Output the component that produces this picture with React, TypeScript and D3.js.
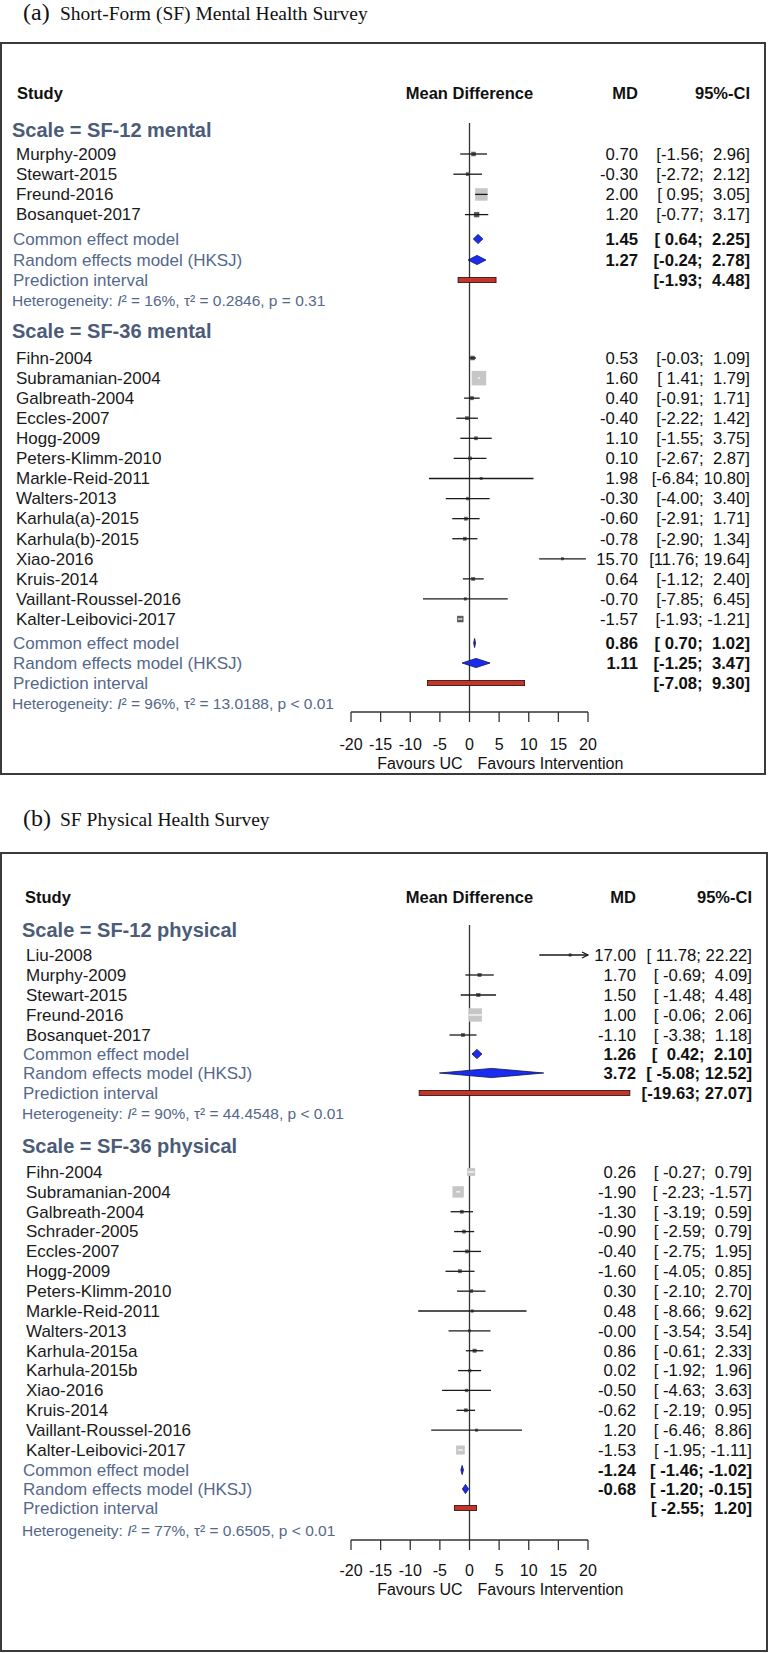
import React from "react";
import * as d3 from "d3";

const W = 769;
const H = 1653;

// ---------------- Panel (a): SF mental ----------------
const m12Studies = ["Murphy-2009", "Stewart-2015", "Freund-2016", "Bosanquet-2017"];
const m12MD = [0.7, -0.3, 2.0, 1.2];
const m12Lo = [-1.56, -2.72, 0.95, -0.77];
const m12Hi = [2.96, 2.12, 3.05, 3.17];
const m12Weight = [8, 5, 72, 12];
const m12Common = [1.45, 0.64, 2.25];
const m12Random = [1.27, -0.24, 2.78];
const m12Pred = [-1.93, 4.48];
const m12Het = ["16%", "0.2846", "p = 0.31"];

const m36Studies = [
  "Fihn-2004", "Subramanian-2004", "Galbreath-2004", "Eccles-2007", "Hogg-2009",
  "Peters-Klimm-2010", "Markle-Reid-2011", "Walters-2013", "Karhula(a)-2015",
  "Karhula(b)-2015", "Xiao-2016", "Kruis-2014", "Vaillant-Roussel-2016", "Kalter-Leibovici-2017",
];
const m36MD = [0.53, 1.6, 0.4, -0.4, 1.1, 0.1, 1.98, -0.3, -0.6, -0.78, 15.7, 0.64, -0.7, -1.57];
const m36Lo = [-0.03, 1.41, -0.91, -2.22, -1.55, -2.67, -6.84, -4.0, -2.91, -2.9, 11.76, -1.12, -7.85, -1.93];
const m36Hi = [1.09, 1.79, 1.71, 1.42, 3.75, 2.87, 10.8, 3.4, 1.71, 1.34, 19.64, 2.4, 6.45, -1.21];
const m36Weight = [8, 100, 6, 5, 5, 5, 3, 4, 5, 5, 3, 5, 3, 18];
const m36Common = [0.86, 0.7, 1.02];
const m36Random = [1.11, -1.25, 3.47];
const m36Pred = [-7.08, 9.3];
const m36Het = ["96%", "13.0188", "p < 0.01"];

// ---------------- Panel (b): SF physical ----------------
const p12Studies = ["Liu-2008", "Murphy-2009", "Stewart-2015", "Freund-2016", "Bosanquet-2017"];
const p12MD = [17.0, 1.7, 1.5, 1.0, -1.1];
const p12Lo = [11.78, -0.69, -1.48, -0.06, -3.38];
const p12Hi = [22.22, 4.09, 4.48, 2.06, 1.18];
const p12Weight = [3, 6, 6, 82, 6];
const p12Common = [1.26, 0.42, 2.1];
const p12Random = [3.72, -5.08, 12.52];
const p12Pred = [-19.63, 27.07];
const p12PredDrawn = [-8.5, 27.07]; // extent of the red bar as drawn in the figure
const p12Het = ["90%", "44.4548", "p < 0.01"];

const p36Studies = [
  "Fihn-2004", "Subramanian-2004", "Galbreath-2004", "Schrader-2005", "Eccles-2007",
  "Hogg-2009", "Peters-Klimm-2010", "Markle-Reid-2011", "Walters-2013", "Karhula-2015a",
  "Karhula-2015b", "Xiao-2016", "Kruis-2014", "Vaillant-Roussel-2016", "Kalter-Leibovici-2017",
];
const p36MD = [0.26, -1.9, -1.3, -0.9, -0.4, -1.6, 0.3, 0.48, -0.001, 0.86, 0.02, -0.5, -0.62, 1.2, -1.53];
const p36Lo = [-0.27, -2.23, -3.19, -2.59, -2.75, -4.05, -2.1, -8.66, -3.54, -0.61, -1.92, -4.63, -2.19, -6.46, -1.95];
const p36Hi = [0.79, -1.57, 0.59, 0.79, 1.95, 0.85, 2.7, 9.62, 3.54, 2.33, 1.96, 3.63, 0.95, 8.86, -1.11];
const p36Weight = [30, 60, 5, 5, 5, 5, 5, 3, 3, 6, 4, 4, 5, 3, 36];
const p36Common = [-1.24, -1.46, -1.02];
const p36Random = [-0.68, -1.2, -0.15];
const p36Pred = [-2.55, 1.2];
const p36Het = ["77%", "0.6505", "p < 0.01"];

const xTicks = [-20, -15, -10, -5, 0, 5, 10, 15, 20];
const xDomain = [-20, 20];

const SANS = "'Liberation Sans', Arial, Helvetica, sans-serif";
const SERIF = "'Liberation Serif', 'Times New Roman', serif";
const SLATE = "#4b5b78";
const SLATE_LIGHT = "#55688a";

type Group = {
  name: string;
  studies: string[];
  md: number[];
  lo: number[];
  hi: number[];
  weight: number[];
  common: number[];
  random: number[];
  pred: number[];
  predDrawn: number[];
  het: string[];
  yHeader: number;
  yFirst: number;
  step: number;
  ySum: number[]; // common, random, prediction, heterogeneity
};

type Panel = {
  letter: string;
  title: string;
  titleY: number;
  boxTop: number;
  boxBottom: number;
  boxRight: number;
  headY: number;
  headX: number;
  groupX: number;
  studyX: number;
  sumX: number;
  mdX: number;
  ciRightX: number;
  loPad: number;
  hiPad: number;
  zeroTop: number;
  axisY: number;
  tickLabelY: number;
  favY: number;
  groups: Group[];
};

const panels: Panel[] = [
  {
    letter: "(a)",
    title: "Short-Form (SF) Mental Health Survey",
    titleY: 20,
    boxTop: 43,
    boxBottom: 774,
    boxRight: 765,
    headY: 93,
    headX: 17,
    groupX: 12,
    studyX: 16,
    sumX: 13,
    mdX: 638,
    ciRightX: 750,
    loPad: 5,
    hiPad: 5,
    zeroTop: 123,
    axisY: 712,
    tickLabelY: 744,
    favY: 763,
    groups: [
      {
        name: "Scale = SF-12 mental", studies: m12Studies, md: m12MD, lo: m12Lo, hi: m12Hi,
        weight: m12Weight, common: m12Common, random: m12Random, pred: m12Pred, predDrawn: m12Pred,
        het: m12Het, yHeader: 130, yFirst: 154, step: 20.2, ySum: [239, 260, 280, 301],
      },
      {
        name: "Scale = SF-36 mental", studies: m36Studies, md: m36MD, lo: m36Lo, hi: m36Hi,
        weight: m36Weight, common: m36Common, random: m36Random, pred: m36Pred, predDrawn: m36Pred,
        het: m36Het, yHeader: 331, yFirst: 358, step: 20.08, ySum: [643, 663, 683, 704],
      },
    ],
  },
  {
    letter: "(b)",
    title: "SF Physical Health Survey",
    titleY: 826,
    boxTop: 853,
    boxBottom: 1651,
    boxRight: 767,
    headY: 897,
    headX: 25,
    groupX: 22,
    studyX: 26,
    sumX: 23,
    mdX: 636,
    ciRightX: 752,
    loPad: 6,
    hiPad: 5,
    zeroTop: 925,
    axisY: 1540,
    tickLabelY: 1570,
    favY: 1589,
    groups: [
      {
        name: "Scale = SF-12 physical", studies: p12Studies, md: p12MD, lo: p12Lo, hi: p12Hi,
        weight: p12Weight, common: p12Common, random: p12Random, pred: p12Pred, predDrawn: p12PredDrawn,
        het: p12Het, yHeader: 930, yFirst: 955, step: 20, ySum: [1054, 1073, 1093, 1114],
      },
      {
        name: "Scale = SF-36 physical", studies: p36Studies, md: p36MD, lo: p36Lo, hi: p36Hi,
        weight: p36Weight, common: p36Common, random: p36Random, pred: p36Pred, predDrawn: p36Pred,
        het: p36Het, yHeader: 1146, yFirst: 1172, step: 19.86, ySum: [1470, 1489, 1508, 1531],
      },
    ],
  },
];

const fmt = (v: number) => v.toFixed(2);

function PanelView({ p }: { p: Panel }) {
  const x = d3.scaleLinear().domain(xDomain).range([351, 588]);
  const side = d3.scaleSqrt().domain([0, 100]).range([0, 14]);
  const x0 = x(0);

  const ciText = (lo: number, hi: number, y: number, bold: boolean, key: string) => (
    <text key={key} x={p.ciRightX} y={y + 5.8} textAnchor="end" fontWeight={bold ? "bold" : "normal"}
      fontSize={16.7} fill="#111" style={{ whiteSpace: "pre" }}>
      {"[" + fmt(lo).padStart(p.loPad, " ") + "; " + fmt(hi).padStart(p.hiPad, " ") + "]"}
    </text>
  );

  const diamond = (v: number[], y: number, key: string) => {
    const h = 4.6;
    const d = `M${x(v[1])},${y} L${x(v[0])},${y - h} L${x(v[2])},${y} L${x(v[0])},${y + h} Z`;
    return <path key={key} d={d} fill="#1a2cf0" stroke="#0c1250" strokeWidth={0.8} />;
  };

  return (
    <g fontFamily={SANS}>
      {/* Title */}
      <text x={23} y={p.titleY} fontFamily={SERIF} fontSize={24} fill="#111">{p.letter}</text>
      <text x={60} y={p.titleY} fontFamily={SERIF} fontSize={19.5} fill="#111">{p.title}</text>

      {/* Frame */}
      <rect x={1} y={p.boxTop} width={p.boxRight - 1} height={p.boxBottom - p.boxTop}
        fill="none" stroke="#3a3a3a" strokeWidth={2} />

      {/* Column headers */}
      <g fontWeight="bold" fontSize={16.5} fill="#111">
        <text x={p.headX} y={p.headY + 6}>Study</text>
        <text x={x0} y={p.headY + 6} textAnchor="middle">Mean Difference</text>
        <text x={p.mdX} y={p.headY + 6} textAnchor="end">MD</text>
        <text x={p.ciRightX} y={p.headY + 6} textAnchor="end">95%-CI</text>
      </g>

      {/* zero line */}
      <line x1={x0} x2={x0} y1={p.zeroTop} y2={p.axisY} stroke="#333" strokeWidth={1.3} />

      {p.groups.map((g, gi) => {
        const ys = g.studies.map((_, i) => g.yFirst + i * g.step);
        return (
          <g key={gi}>
            <text x={p.groupX} y={g.yHeader + 7} fontWeight="bold" fontSize={20} fill={SLATE}>{g.name}</text>
            {g.studies.map((s, i) => {
              const y = ys[i];
              const cx = x(g.md[i]);
              const sd = side(g.weight[i]);
              const loC = Math.max(g.lo[i], xDomain[0]);
              const hiC = Math.min(g.hi[i], xDomain[1]);
              const inside = x(g.lo[i]) >= cx - sd / 2 && x(g.hi[i]) <= cx + sd / 2;
              const sqFill = sd < 7 ? "#5a5a5a" : "#c6c6c6";
              return (
                <g key={s}>
                  <text x={p.studyX} y={y + 5.8} fontSize={17} fill="#1a1a1a">{s}</text>
                  <rect x={cx - sd / 2} y={y - sd / 2} width={sd} height={sd} fill={sqFill} stroke={sqFill} strokeWidth={0.5} />
                  {inside ? (
                    <line x1={x(g.lo[i])} x2={x(g.hi[i])} y1={y} y2={y} stroke="#fff" strokeWidth={1.2} />
                  ) : (
                    <line x1={x(loC)} x2={x(hiC)} y1={y} y2={y} stroke="#1a1a1a" strokeWidth={1.3} />
                  )}
                  {g.hi[i] > xDomain[1] && (
                    <path d={`M${x(xDomain[1]) - 6},${y - 3} L${x(xDomain[1])},${y} L${x(xDomain[1]) - 6},${y + 3}`}
                      fill="none" stroke="#1a1a1a" strokeWidth={1.3} />
                  )}
                  {g.lo[i] < xDomain[0] && (
                    <path d={`M${x(xDomain[0]) + 6},${y - 3} L${x(xDomain[0])},${y} L${x(xDomain[0]) + 6},${y + 3}`}
                      fill="none" stroke="#1a1a1a" strokeWidth={1.3} />
                  )}
                  <text x={p.mdX} y={y + 5.8} textAnchor="end" fontSize={16.7} fill="#111">{fmt(g.md[i])}</text>
                  {ciText(g.lo[i], g.hi[i], y, false, "ci" + i)}
                </g>
              );
            })}

            {/* summaries */}
            <g fontSize={17} fill={SLATE_LIGHT}>
              <text x={p.sumX} y={g.ySum[0] + 6}>Common effect model</text>
              <text x={p.sumX} y={g.ySum[1] + 6}>Random effects model (HKSJ)</text>
              <text x={p.sumX} y={g.ySum[2] + 6}>Prediction interval</text>
            </g>
            <text x={p.sumX - 1} y={g.ySum[3] + 5.2} fontSize={15.5} fill={SLATE_LIGHT}>
              {"Heterogeneity: "}
              <tspan fontStyle="italic">I</tspan>
              {"\u00B2 = " + g.het[0] + ", \u03C4\u00B2 = " + g.het[1] + ", " + g.het[2]}
            </text>
            {diamond(g.common, g.ySum[0], "dc")}
            {diamond(g.random, g.ySum[1], "dr")}
            <rect x={x(g.predDrawn[0])} y={g.ySum[2] - 2.6} width={x(g.predDrawn[1]) - x(g.predDrawn[0])} height={5.2}
              fill="#c2352b" stroke="#2a0a08" strokeWidth={0.8} />
            <g fontWeight="bold" fontSize={16.7} fill="#111">
              <text x={p.mdX} y={g.ySum[0] + 5.8} textAnchor="end">{fmt(g.common[0])}</text>
              <text x={p.mdX} y={g.ySum[1] + 5.8} textAnchor="end">{fmt(g.random[0])}</text>
            </g>
            {ciText(g.common[1], g.common[2], g.ySum[0], true, "cc")}
            {ciText(g.random[1], g.random[2], g.ySum[1], true, "cr")}
            {ciText(g.pred[0], g.pred[1], g.ySum[2], true, "cp")}
          </g>
        );
      })}

      {/* x axis */}
      <line x1={x(xDomain[0])} x2={x(xDomain[1])} y1={p.axisY} y2={p.axisY} stroke="#333" strokeWidth={1.3} />
      {xTicks.map((t) => (
        <g key={t}>
          <line x1={x(t)} x2={x(t)} y1={p.axisY} y2={p.axisY + 10} stroke="#333" strokeWidth={1.3} />
          <text x={x(t)} y={p.tickLabelY + 6} textAnchor="middle" fontSize={16} fill="#111">{String(t)}</text>
        </g>
      ))}
      <text x={x0 - 7} y={p.favY + 6} textAnchor="end" fontSize={16} fill="#111">Favours UC</text>
      <text x={x0 + 8} y={p.favY + 6} fontSize={16} fill="#111">Favours Intervention</text>
    </g>
  );
}

export default function App() {
  return (
    <div style={{ position: "absolute", left: 0, top: 0 }}>
      <svg width={W} height={H} viewBox={`0 0 ${W} ${H}`} style={{ display: "block", background: "#fff" }}>
        <rect x={0} y={0} width={W} height={H} fill="#fff" />
        {panels.map((p) => (
          <PanelView key={p.letter} p={p} />
        ))}
      </svg>
    </div>
  );
}
